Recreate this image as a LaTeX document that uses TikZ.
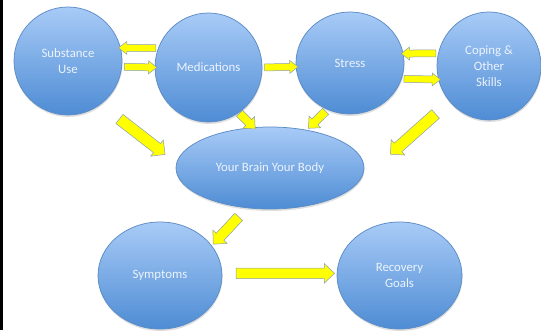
\documentclass[tikz,border=0pt]{standalone}
\usepackage{fontspec}
\setmainfont{Carlito}
\usetikzlibrary{shapes.geometric, shapes.arrows, calc, shadows}

\definecolor{bubbletop}{RGB}{168,203,247}
\definecolor{bubblebottom}{RGB}{78,140,212}
\definecolor{bubbleline}{RGB}{92,140,198}
\definecolor{bubbletext}{RGB}{236,243,252}
\definecolor{arrowfill}{RGB}{255,255,0}
\definecolor{arrowline}{RGB}{140,158,182}

% block arrow between two anchors, cut at two fractions of the way
\newcommand{\blockarrow}[5][]{%
  \path let \p1=($(#2)!#4!(#3)$), \p2=($(#2)!#5!(#3)$),
            \n1={atan2(\y2-\y1,\x2-\x1)}, \n2={veclen(\x2-\x1,\y2-\y1)} in
    node[#1, rotate=\n1, minimum height=\n2] at ($(\p1)!0.5!(\p2)$) {};
}

\begin{document}
\begin{tikzpicture}[x=1bp, y=1bp,
    % Bubble styles
    bubble/.style={ellipse, draw=bubbleline, line width=0.75bp,
                   top color=bubbletop, bottom color=bubblebottom,
                   text=bubbletext, font=\fontsize{12.8bp}{16bp}\selectfont,
                   align=center, inner sep=0pt,
                   drop shadow={shadow xshift=0.5bp, shadow yshift=-2bp, opacity=0.25}},
    % Block arrow styles
    block_arrow/.style={single arrow, draw=arrowline, fill=arrowfill, line width=0.5bp,
                        inner xsep=0pt, single arrow head indent=0pt, single arrow tip angle=84},
    arrow_small/.style={block_arrow, inner ysep=3.25bp, single arrow head extend=3bp, single arrow tip angle=76},
    arrow_mid/.style={block_arrow, inner ysep=4bp, single arrow head extend=4bp},
    arrow_big/.style={block_arrow, inner ysep=5.5bp, single arrow head extend=4.5bp, single arrow tip angle=90},
    arrow_long/.style={block_arrow, inner ysep=5bp, single arrow head extend=4.5bp, single arrow tip angle=88}
]
\useasboundingbox (0,0) rectangle (541,330);

% Frame edge on the left
\fill[black] (0,0) rectangle (3,330);

% Top row
\node[bubble, minimum width=108bp, minimum height=108bp] (sub_use) at (68,269) {Substance\\Use};
\node[bubble, minimum width=107bp, minimum height=109bp] (meds) at (208.5,262.5) {Medications};
\node[bubble, minimum width=108bp, minimum height=102bp] (stress) at (350,267) {Stress};
\node[bubble, minimum width=104bp, minimum height=108bp] (coping) at (489,264) {Coping \&\\Other\\Skills};

% Middle and bottom
\node[bubble, minimum width=188bp, minimum height=82bp] (brain) at (270,162) {Your Brain Your Body};
\node[bubble, minimum width=124bp, minimum height=107bp] (symptoms) at (160,54.5) {Symptoms};
\node[bubble, minimum width=125bp, minimum height=107bp] (recovery) at (399.5,54.5) {Recovery\\Goals};

% Arrows along the top row
\blockarrow[arrow_small]{meds.159}{sub_use.14}{0}{1}
\blockarrow[arrow_small]{sub_use.-6}{meds.180}{0}{1}
\blockarrow[arrow_small]{meds.0}{stress.184}{0}{1}
\blockarrow[arrow_small]{coping.166}{stress.10}{0}{1}
\blockarrow[arrow_small]{stress.-17}{coping.195}{0}{1}

% Arrows into the brain
\blockarrow[arrow_big]{sub_use.-53}{brain.177}{0.217}{0.822}
\blockarrow[arrow_mid]{meds.-56}{brain.112}{-0.08}{1}
\blockarrow[arrow_mid]{stress.244}{brain.46}{0}{0.84}
\blockarrow[arrow_big]{coping.222}{brain.-10}{0.127}{0.62}

% Arrows out of the brain
\blockarrow[arrow_long]{brain.240}{symptoms.30}{0.18}{0.91}
\blockarrow[arrow_long]{symptoms.2}{recovery.178}{0.096}{0.957}

\end{tikzpicture}
\end{document}
